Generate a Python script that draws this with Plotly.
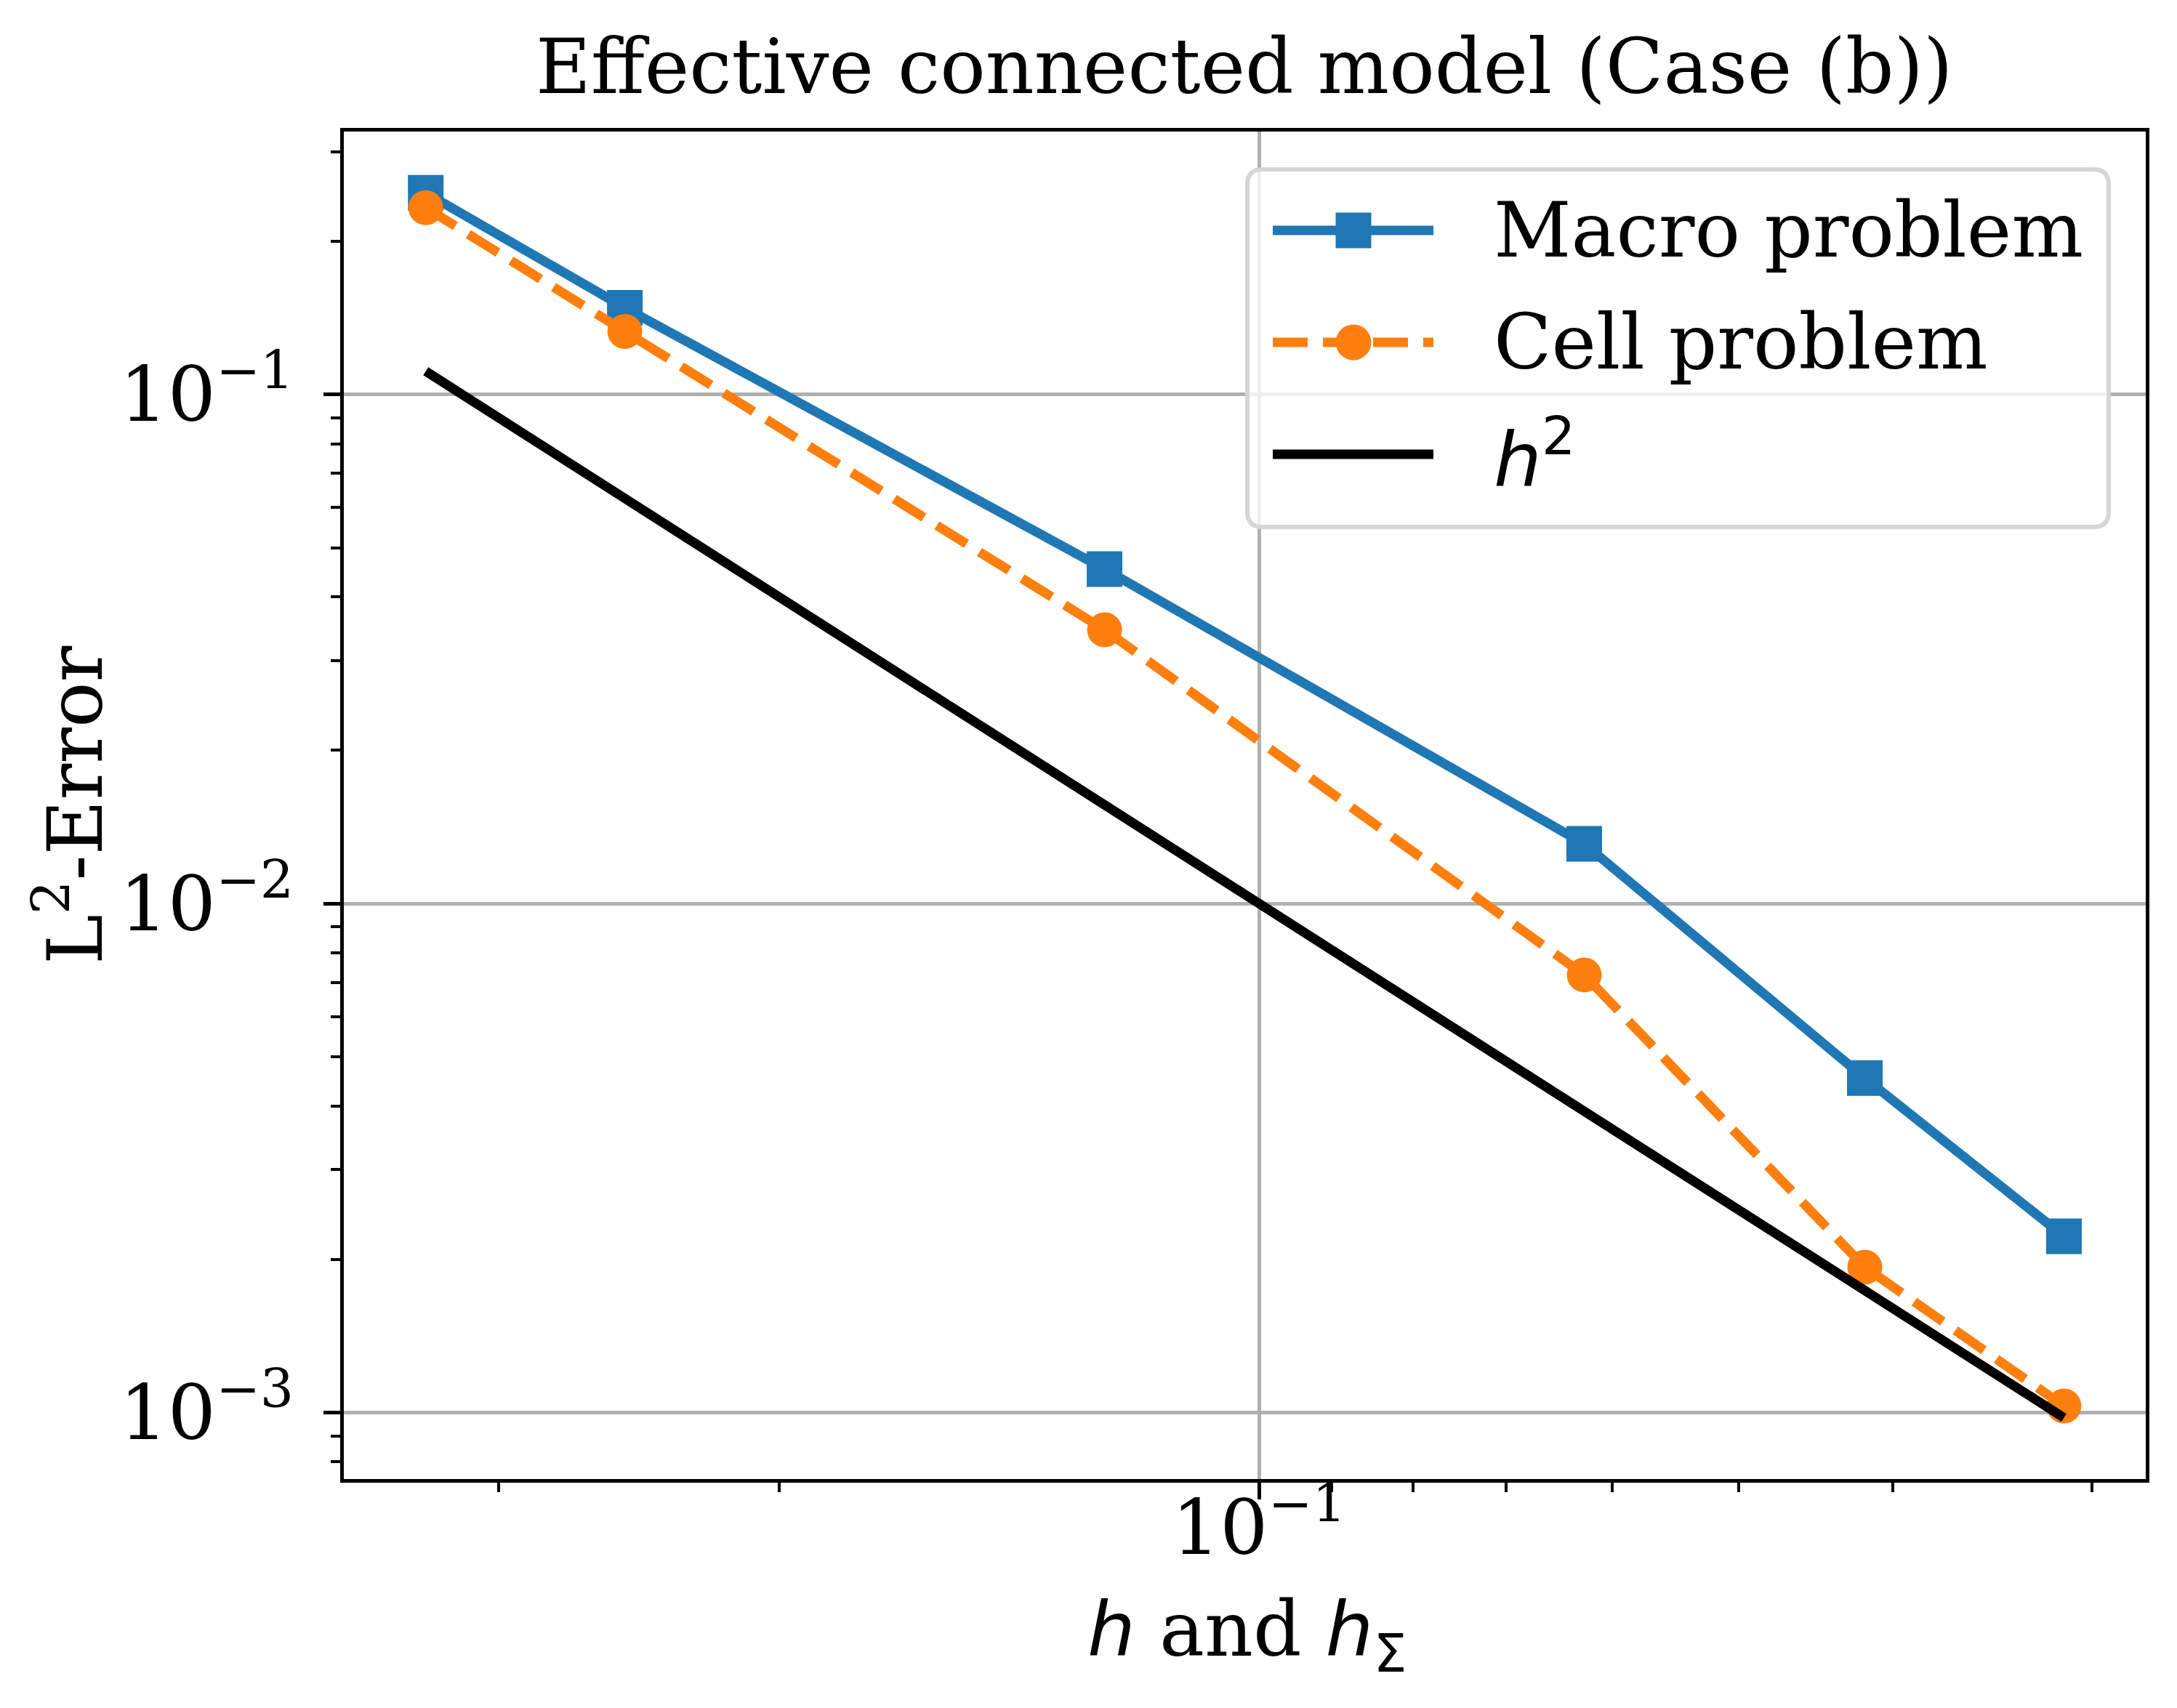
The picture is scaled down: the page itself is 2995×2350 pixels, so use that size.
import plotly.graph_objects as go

# mesh sizes (x) and L2 errors
h_vals = [1/3, 1/4, 1/8, 1/16, 1/24, 1/32]
macro_err = [0.2490, 0.1480, 0.0454, 0.0131, 0.00454, 0.00222]
cell_err = [0.2328, 0.1330, 0.0345, 0.00724, 0.00193, 0.00103]
h2_ref = [0.1111, 0.0625, 0.015625, 0.003906, 0.001736, 0.000977]

names = ["Macro problem", "Cell problem", "<i>h</i><sup>2</sup>"]

y_major = [1e-1, 1e-2, 1e-3]
y_major_text = ["10<sup>\u22121</sup>", "10<sup>\u22122</sup>", "10<sup>\u22123</sup>"]
y_minor = [0.0008, 0.0009, 0.002, 0.003, 0.004, 0.005, 0.006, 0.007, 0.008, 0.009,
           0.02, 0.03, 0.04, 0.05, 0.06, 0.07, 0.08, 0.09, 0.2, 0.3]
x_major = [1e-1]
x_major_text = ["10<sup>\u22121</sup>"]
x_minor = [0.03, 0.04, 0.05, 0.06, 0.07, 0.08, 0.09, 0.2, 0.3]

BLUE = "#1f77b4"
ORANGE = "#ff7f0e"
SERIF = "DejaVu Serif"
SANS = "DejaVu Sans"
FS = 104

W, H = 2995, 2350
ML, MR, MT, MB = 465, 51, 173, 323
PW, PH = W - ML - MR, H - MT - MB


def px(x, y):
    # pixel position on the page -> paper coords of the plot area
    return (x - ML) / PW, (H - MB - y) / PH


fig = go.Figure()
fig.add_trace(go.Scatter(x=h_vals, y=macro_err, mode="lines+markers", name="Macro problem",
                         line=dict(color=BLUE, width=13),
                         marker=dict(symbol="square", size=49, color=BLUE)))
fig.add_trace(go.Scatter(x=h_vals, y=cell_err, mode="lines+markers", name="Cell problem",
                         line=dict(color=ORANGE, width=13, dash="48px,21px"),
                         marker=dict(symbol="circle", size=48, color=ORANGE)))
fig.add_trace(go.Scatter(x=h_vals, y=h2_ref, mode="lines", name="h^2",
                         line=dict(color="black", width=13)))

axis_common = dict(type="log", showline=True, linecolor="black", linewidth=5, mirror=True,
                   ticks="outside", ticklen=23, tickwidth=5, tickcolor="black",
                   showgrid=True, gridcolor="#b0b0b0", gridwidth=5, zeroline=False,
                   tickfont=dict(family=SERIF, size=FS, color="black"))

fig.update_xaxes(range=[-0.4257, -1.5565], tickmode="array", tickvals=x_major,
                 ticktext=x_major_text, ticklabelstandoff=-50,
                 minor=dict(tickvals=x_minor, ticks="outside", ticklen=13, tickwidth=4,
                            tickcolor="black", showgrid=False),
                 **axis_common)
fig.update_yaxes(range=[-3.1306, -0.4835], tickmode="array", tickvals=y_major,
                 ticktext=y_major_text, ticklabelstandoff=20,
                 minor=dict(tickvals=y_minor, ticks="outside", ticklen=13, tickwidth=4,
                            tickcolor="black", showgrid=False),
                 **axis_common)

# hand made legend, matplotlib style
shapes = []
bx0, by0 = px(1708, 225)
bx1, by1 = px(2893, 717)
rx, ry = 21 / PW, 21 / PH
box_path = (f"M {bx0+rx},{by0} L {bx1-rx},{by0} Q {bx1},{by0} {bx1},{by0-ry} "
            f"L {bx1},{by1+ry} Q {bx1},{by1} {bx1-rx},{by1} L {bx0+rx},{by1} "
            f"Q {bx0},{by1} {bx0},{by1+ry} L {bx0},{by0-ry} Q {bx0},{by0} {bx0+rx},{by0} Z")
shapes.append(dict(type="path", xref="paper", yref="paper", path=box_path, layer="above",
                   fillcolor="rgba(255,255,255,0.8)", line=dict(color="#d6d6d6", width=6)))

row_y = [309, 463, 617]
styles = [(BLUE, "solid", "square"), (ORANGE, "48px,21px", "circle"), ("black", "solid", None)]
annotations = []
for ry_px, (col, dash, sym), label in zip(row_y, styles, names):
    lx0, ly = px(1743, ry_px)
    lx1, _ = px(1964, ry_px)
    shapes.append(dict(type="line", xref="paper", yref="paper", x0=lx0, x1=lx1, y0=ly, y1=ly,
                       layer="above", line=dict(color=col, width=13, dash=dash)))
    if sym is not None:
        mx, my = px(1854, ry_px)
        hw, hh = 24.5 / PW, 24.5 / PH
        shapes.append(dict(type="rect" if sym == "square" else "circle", xref="paper", yref="paper",
                           x0=mx - hw, x1=mx + hw, y0=my - hh, y1=my + hh, layer="above",
                           fillcolor=col, line=dict(width=0)))
    tx, ty = px(2045, ry_px)
    fam = SANS if label.startswith("<i>") else SERIF
    annotations.append(dict(text=label, xref="paper", yref="paper", x=tx, y=ty,
                            xanchor="left", yanchor="middle", showarrow=False,
                            font=dict(family=fam, size=FS, color="black")))

# title and axis labels
tx, ty = px(1704, 84)
annotations.append(dict(text="Effective connected model (Case (b))", xref="paper", yref="paper",
                        x=tx, y=ty, xanchor="center", yanchor="middle", showarrow=False,
                        font=dict(family=SERIF, size=FS, color="black")))
tx, ty = px(1708, 2241)
annotations.append(dict(text=f"<span style='font-family:{SANS}'><i>h</i></span> and "
                             f"<span style='font-family:{SANS}'><i>h</i><sub>\u03a3</sub></span>",
                        xref="paper", yref="paper", x=tx, y=ty, xanchor="center", yanchor="middle",
                        showarrow=False, font=dict(family=SERIF, size=FS, color="black")))
tx, ty = px(88, 1100)
annotations.append(dict(text="L<sup>2</sup>-Error", xref="paper", yref="paper", x=tx, y=ty,
                        xanchor="center", yanchor="middle", textangle=-90, showarrow=False,
                        font=dict(family=SERIF, size=FS, color="black")))

fig.update_layout(width=W, height=H, autosize=False,
                  margin=dict(l=ML, r=MR, t=MT, b=MB, pad=0),
                  paper_bgcolor="white", plot_bgcolor="white",
                  showlegend=False, shapes=shapes, annotations=annotations)

fig.write_html("out.html")
